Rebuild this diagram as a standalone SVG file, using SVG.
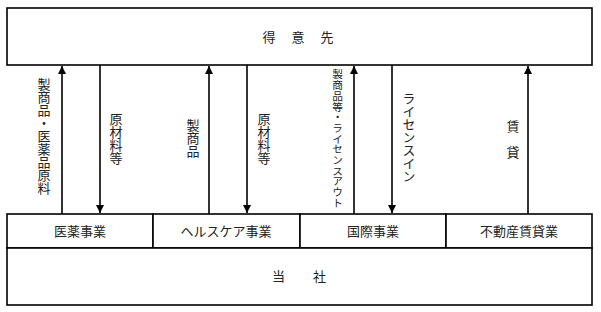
<svg xmlns="http://www.w3.org/2000/svg" width="601" height="312" viewBox="0 0 601 312">
<style>
.box{fill:#fff;stroke:#000;stroke-width:1.6}
.t{font-family:"Liberation Serif","Noto Sans CJK JP",serif;font-size:13px;fill:#222;text-anchor:middle}
.v{font-family:"Liberation Serif","Noto Sans CJK JP",serif;font-size:13px;fill:#222;writing-mode:vertical-rl;text-orientation:upright}
.c{stroke:#000;stroke-width:1.6;fill:none}
</style>
<defs>
<marker id="ah" viewBox="0 0 10 10" refX="10" refY="5" markerWidth="8" markerHeight="8" markerUnits="userSpaceOnUse" orient="auto">
<path d="M0,0 L10,5 L0,10 Z" fill="#000"/>
</marker>
</defs>
<g id="customer">
<rect class="box" x="7" y="8" width="585" height="57"/>
<text class="t" x="306" y="42" letter-spacing="16">得意先</text>
</g>
<g id="connectors">
<line class="c" x1="62" y1="214" x2="62" y2="66" marker-end="url(#ah)"/>
<line class="c" x1="100" y1="65" x2="100" y2="213" marker-end="url(#ah)"/>
<line class="c" x1="209" y1="214" x2="209" y2="66" marker-end="url(#ah)"/>
<line class="c" x1="247" y1="65" x2="247" y2="213" marker-end="url(#ah)"/>
<line class="c" x1="354" y1="214" x2="354" y2="66" marker-end="url(#ah)"/>
<line class="c" x1="392" y1="65" x2="392" y2="213" marker-end="url(#ah)"/>
<line class="c" x1="528" y1="214" x2="528" y2="66" marker-end="url(#ah)"/>
<text class="v" x="43" y="78">製商品・医薬品原料</text>
<text class="v" x="115" y="113">原材料等</text>
<text class="v" x="192" y="119">製商品</text>
<text class="v" x="263" y="113">原材料等</text>
<text class="v" x="337" y="69" style="font-size:10.7px">製商品等・ライセンスアウト</text>
<text class="v" x="408" y="92">ライセンスイン</text>
<text class="v" x="512" y="120" letter-spacing="13">賃貸</text>
</g>
<g id="pharma">
<rect class="box" x="7" y="214" width="146" height="34"/>
<text class="t" x="80" y="236">医薬事業</text>
</g>
<g id="healthcare">
<rect class="box" x="153" y="214" width="147" height="34"/>
<text class="t" x="226" y="236">ヘルスケア事業</text>
</g>
<g id="international">
<rect class="box" x="300" y="214" width="146" height="34"/>
<text class="t" x="373" y="236">国際事業</text>
</g>
<g id="realestate">
<rect class="box" x="446" y="214" width="146" height="34"/>
<text class="t" x="519" y="236">不動産賃貸業</text>
</g>
<g id="company">
<rect class="box" x="7" y="248" width="585" height="57"/>
<text class="t" x="313" y="281" letter-spacing="28">当社</text>
</g>
</svg>
